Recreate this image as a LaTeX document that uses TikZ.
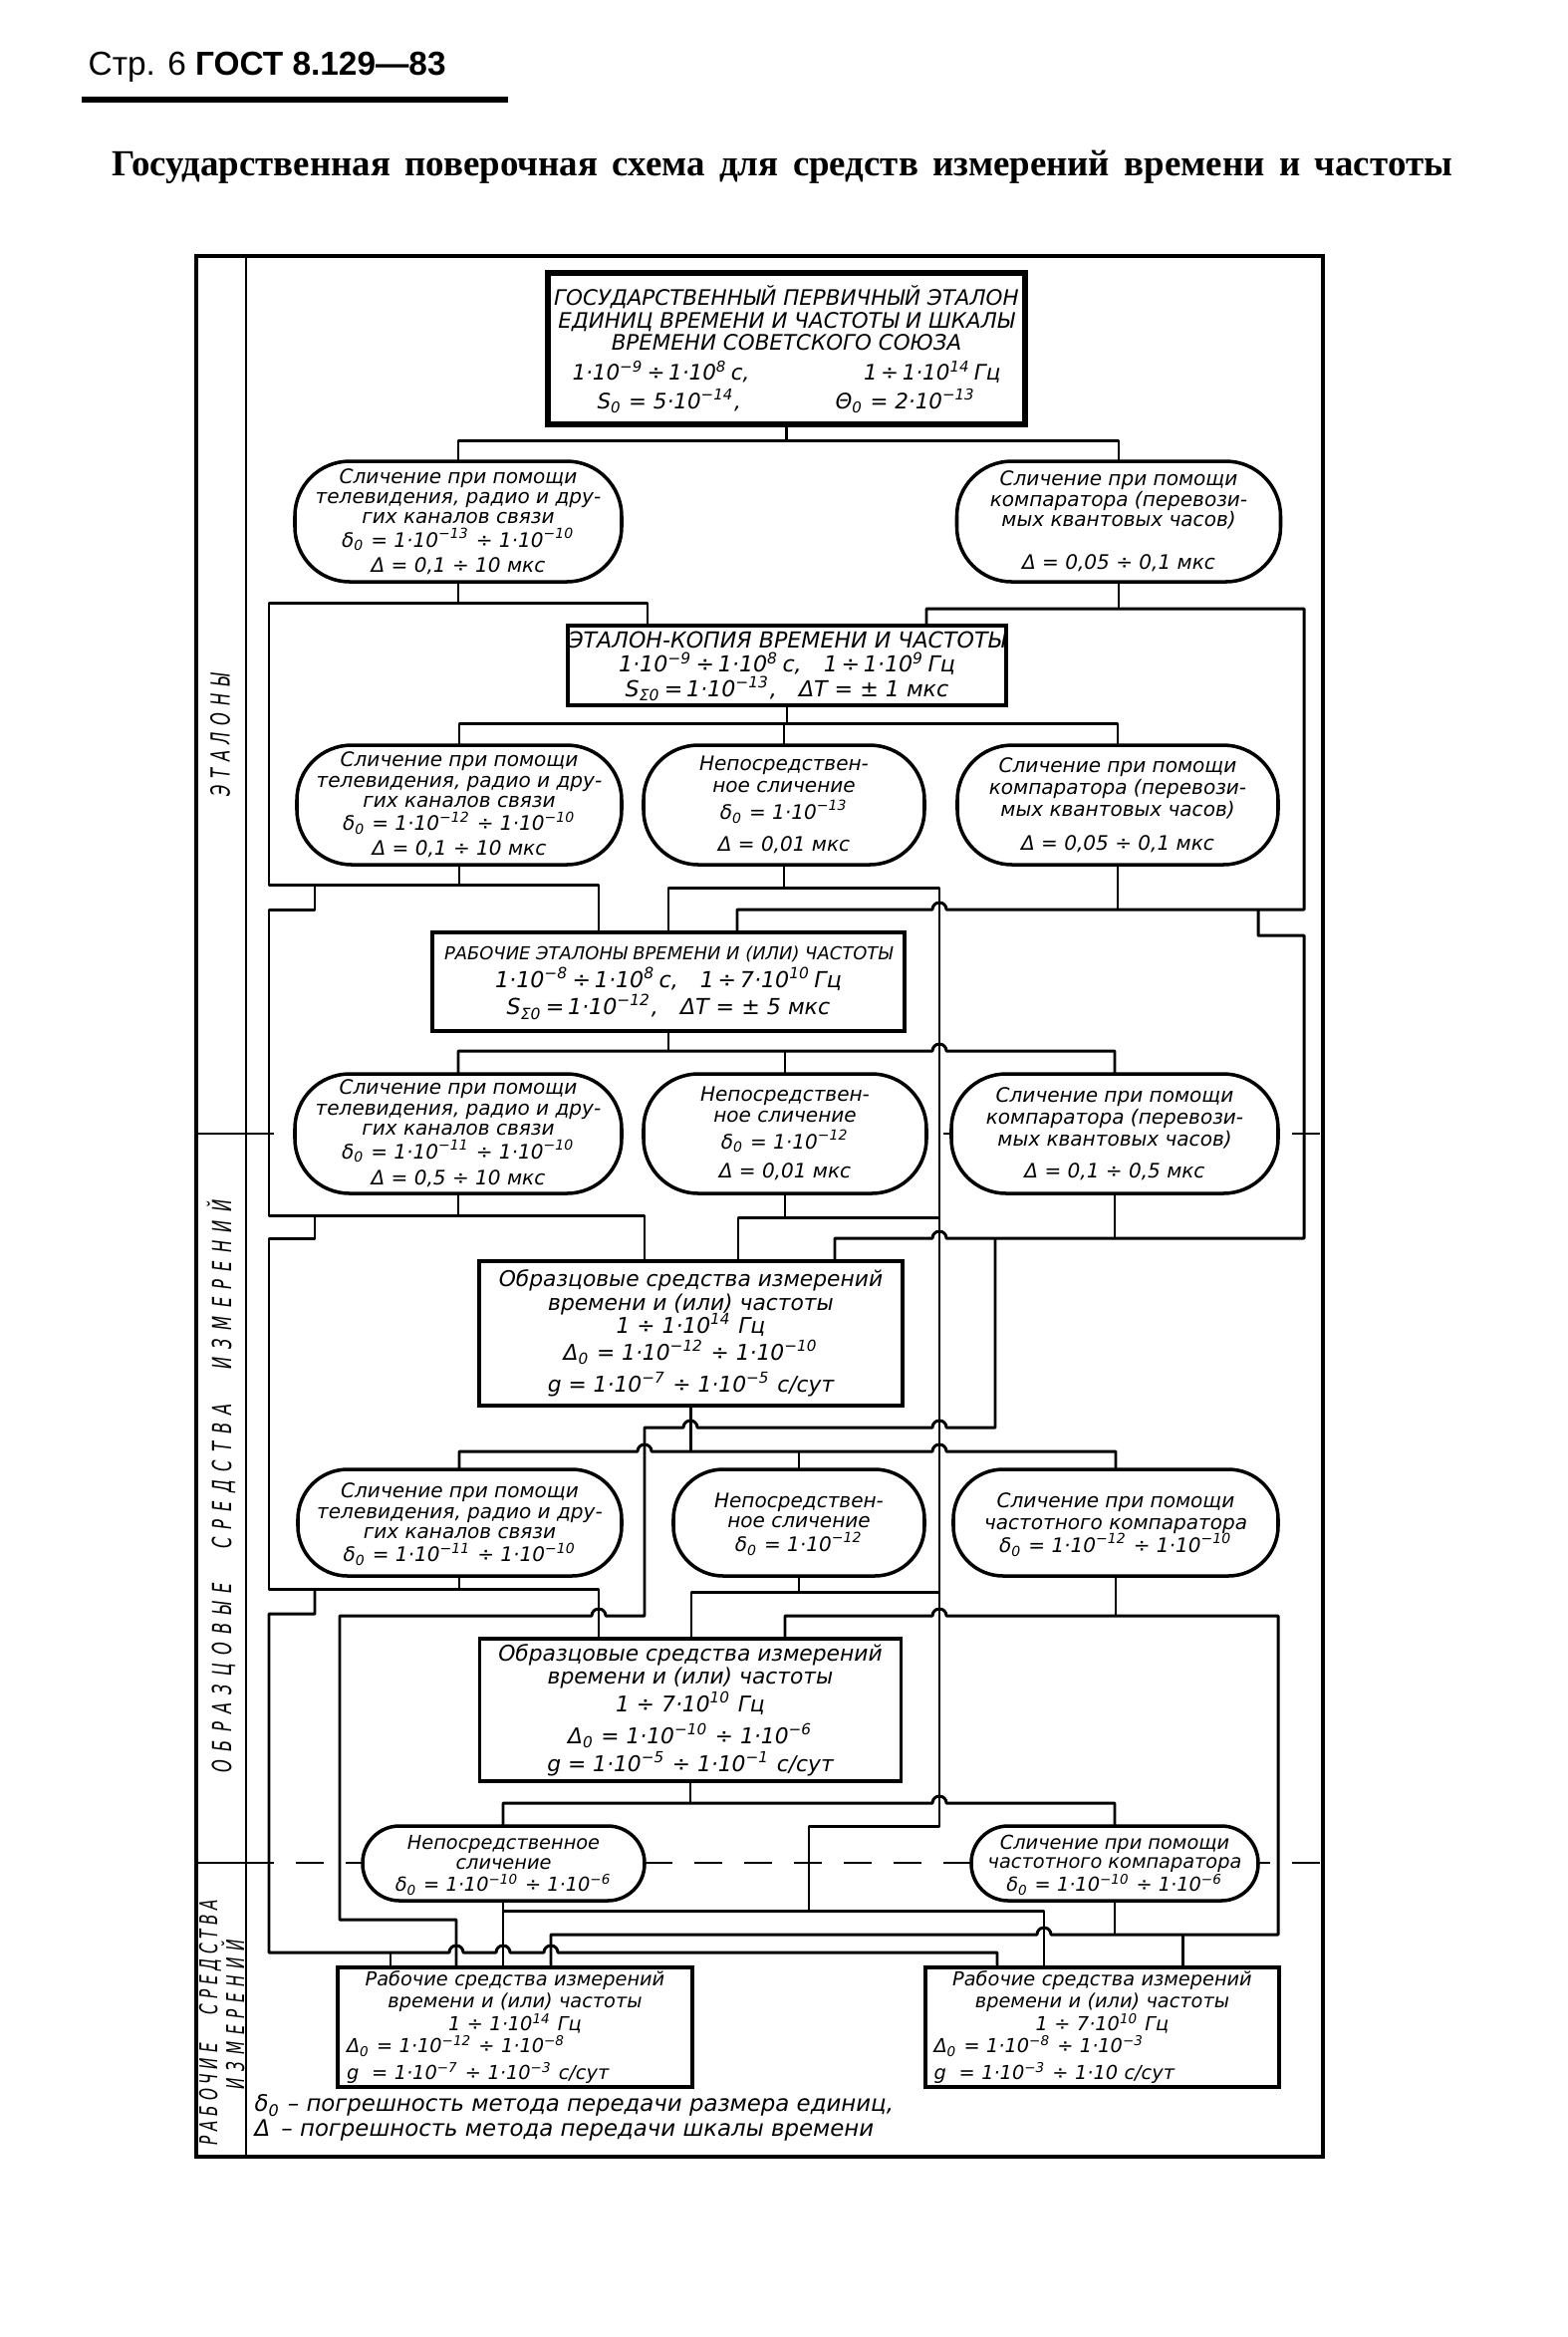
\documentclass[tikz,border=0pt]{standalone}
\usepackage{fontspec}
\usepackage{graphicx}
\newfontfamily\tfam{DejaVu Sans}
\newfontfamily\lblfam[FakeStretch=0.62]{DejaVu Sans}
\newfontfamily\ttlfam{Liberation Serif}
\newfontfamily\hdrfam{Liberation Sans}
\newcommand\pw[1]{\smash{\textsuperscript{#1}}}
\newcommand\ix[1]{\smash{\textsubscript{#1}}}
\newcommand\fs[2]{\tfam\itshape\fontsize{#1}{#2}\selectfont}
\tikzset{
  ln/.style={line width=0.85pt, line join=round},
  bx/.style={draw, line width=1pt, fill=white, inner sep=0pt, align=center, font=\fs{6.3}{7}},
  ov/.style={draw, line width=1pt, fill=white, inner sep=0pt, align=center, font=\fs{5.7}{5.8}, rounded corners=5.5mm},
  sidelbl/.style={rotate=90, font=\lblfam\itshape\fontsize{7.5}{8}\selectfont, inner sep=0pt},
}
\begin{document}
\begin{tikzpicture}[x=0.1mm,y=-0.1mm]
\useasboundingbox[fill=white] (0,0) rectangle (1574,2346);
% header
\node[anchor=west, inner sep=0pt, font=\hdrfam\fontsize{9.5}{11}\selectfont] (hdr) at (88,67) {Стр. 6 \textbf{ГОСТ 8.129—83}};
\draw[line width=0.6mm] (82,100) -- (510,100);
\node[inner sep=0pt, font=\ttlfam\bfseries\fontsize{10.5}{12}\selectfont] (title) at (785,168) {\makebox[134.6mm][s]{Государственная поверочная схема для средств измерений времени и частоты}};
% frame
\draw[line width=1pt] (197,257) rectangle (1328,2165);
\draw[line width=0.8pt] (247,257) -- (247,2165);
\draw[line width=0.8pt] (197,1138) -- (247,1138);
\draw[line width=0.8pt, dash pattern=on 2.8mm off 2.2mm] (247,1138) -- (1328,1138);
\draw[line width=0.8pt] (197,1870) -- (247,1870);
\draw[line width=0.8pt, dash pattern=on 2.8mm off 2.2mm] (247,1870) -- (1328,1870);
% side labels
\node[sidelbl] (s1) at (221,738) {\makebox[12.3mm][s]{Э Т А Л О Н Ы}};
\node[sidelbl] (s2) at (222,1492) {\makebox[57.5mm][s]{О Б Р А З Ц О В Ы Е \quad С Р Е Д С Т В А \quad И З М Е Р Е Н И Й}};
\node[sidelbl, font=\lblfam\itshape\fontsize{7}{8}\selectfont] (s3) at (211,2030) {\makebox[24.6mm][s]{Р А Б О Ч И Е \quad С Р Е Д С Т В А}};
\node[sidelbl, font=\lblfam\itshape\fontsize{7}{8}\selectfont] (s4) at (234,2022) {\makebox[15mm][s]{И З М Е Р Е Н И Й}};

% ---- connectors ----
\draw[ln] (789.5,427) -- (789.5,442);
\draw[ln] (460,463) -- (460,442) -- (1123,442) -- (1123,463);
\draw[ln] (460,584) -- (460,605);
\draw[ln] (650,628) -- (650,605) -- (270,605) -- (270,888) -- (601,888) -- (601,936);
\draw[ln] (1123,584) -- (1123,611);
\draw[ln] (740,936) -- (740,913) -- (936,913) arc[start angle=180,end angle=360,radius=7] -- (1309,913) -- (1309,611) -- (930,611) -- (930,628);
\draw[ln] (790,708) -- (790,726);
\draw[ln] (461,748) -- (461,726) -- (1122,726) -- (1122,748);
\draw[ln] (787,726) -- (787,748);
\draw[ln] (461,868) -- (461,888);
\draw[ln] (316,888) -- (316,913) -- (270,913) -- (270,1220) -- (647,1220) -- (647,1265);
\draw[ln] (787,868) -- (787,891);
\draw[ln] (671,936) -- (671,891) -- (943,891) -- (943,1833) -- (812,1833) -- (812,1918);
\draw[ln] (1122,868) -- (1122,913);
\draw[ln] (1263,913) -- (1263,939) -- (1309,939) -- (1309,1243) -- (950,1243) arc[start angle=0,end angle=-180,radius=7] -- (838,1243) -- (838,1265);
\draw[ln] (671,1035) -- (671,1055);
\draw[ln] (460,1078) -- (460,1055) -- (936,1055) arc[start angle=180,end angle=360,radius=7] -- (1119,1055) -- (1119,1078);
\draw[ln] (788,1055) -- (788,1078);
\draw[ln] (460,1198) -- (460,1220);
\draw[ln] (316,1220) -- (316,1243) -- (270,1243) -- (270,1595) -- (601,1595) -- (601,1645);
\draw[ln] (788,1198) -- (788,1222);
\draw[ln] (741,1265) -- (741,1222) -- (943,1222);
\draw[ln] (1119,1198) -- (1119,1243);
\draw[ln] (999,1243) -- (999,1433) -- (950,1433) arc[start angle=0,end angle=-180,radius=7] -- (700,1433) arc[start angle=0,end angle=-180,radius=7] -- (647,1433) -- (647,1622) -- (608,1622) arc[start angle=0,end angle=-180,radius=7] -- (341,1622) -- (341,1927) -- (458,1927) -- (458,1975);
\draw[ln] (693.5,1410) -- (693.5,1457);
\draw[ln] (461,1475) -- (461,1457) -- (640,1457) arc[start angle=180,end angle=360,radius=7] -- (936,1457) arc[start angle=180,end angle=360,radius=7] -- (1120,1457) -- (1120,1475);
\draw[ln] (802,1457) -- (802,1475);
\draw[ln] (461,1582) -- (461,1595);
\draw[ln] (316,1595) -- (316,1620) -- (270,1620) -- (270,1960) -- (451,1960) arc[start angle=180,end angle=360,radius=7] -- (498,1960) arc[start angle=180,end angle=360,radius=7] -- (546,1960) arc[start angle=180,end angle=360,radius=7] -- (1001,1960) -- (1001,1975);
\draw[ln] (392,1960) -- (392,1975);
\draw[ln] (802,1582) -- (802,1598);
\draw[ln] (694,1645) -- (694,1598) -- (943,1598);
\draw[ln] (1120,1582) -- (1120,1622);
\draw[ln] (788,1645) -- (788,1622) -- (936,1622) arc[start angle=180,end angle=360,radius=7] -- (1283,1622) -- (1283,1942) -- (1055,1942) arc[start angle=0,end angle=-180,radius=7] -- (553,1942) -- (553,1975);
\draw[ln] (1119,1908) -- (1119,1942);
\draw[ln] (1187,1942) -- (1187,1975);
\draw[ln] (693,1788) -- (693,1810);
\draw[ln] (505,1833) -- (505,1810) -- (936,1810) arc[start angle=180,end angle=360,radius=7] -- (1119,1810) -- (1119,1833);
\draw[ln] (505,1908) -- (505,1975);
\draw[ln] (505,1918) -- (1048,1918) -- (1048,1975);

% ---- boxes ----
\node[bx, line width=1.3pt, minimum width=48.1mm, minimum height=15.4mm, font=\fs{6.1}{6.4}] (b1) at (789.5,350) {ГОСУДАРСТВЕННЫЙ ПЕРВИЧНЫЙ ЭТАЛОН\\ЕДИНИЦ ВРЕМЕНИ И ЧАСТОТЫ И ШКАЛЫ\\ВРЕМЕНИ СОВЕТСКОГО СОЮЗА\\[2.2pt]\makebox[43mm]{1·10\pw{−9}\,÷\,1·10\pw{8}\,с,\hfill 1\,÷\,1·10\pw{14}\,Гц}\\[1.8pt]\makebox[38mm]{S\ix{0} = 5·10\pw{−14},\hfill Θ\ix{0} = 2·10\pw{−13}}};
\draw[line width=0.5pt] ([shift={(5,5)}]b1.north west) rectangle ([shift={(-5,-5)}]b1.south east);
\node[bx, minimum width=42.4mm, minimum height=8mm] (b2) at (790,668) {ЭТАЛОН-КОПИЯ ВРЕМЕНИ И ЧАСТОТЫ\\1·10\pw{−9}\,÷\,1·10\pw{8}\,с,\quad 1\,÷\,1·10\pw{9}\,Гц\\S\ix{Σ0}\,=\,1·10\pw{−13},\quad ΔT = ± 1 мкс};
\node[bx, minimum width=47.4mm, minimum height=9.9mm, font=\fs{6.3}{7.9}] (b3) at (671,985.5) {{\fontsize{5.1}{7}\selectfont РАБОЧИЕ ЭТАЛОНЫ ВРЕМЕНИ И (ИЛИ) ЧАСТОТЫ}\\1·10\pw{−8}\,÷\,1·10\pw{8}\,с,\quad 1\,÷\,7·10\pw{10}\,Гц\\S\ix{Σ0}\,=\,1·10\pw{−12},\quad ΔT = ± 5 мкс};
\node[bx, minimum width=42.5mm, minimum height=14.5mm, font=\fs{6.2}{6.6}] (b4) at (693.5,1338.5) {Образцовые средства измерений\\времени и (или) частоты\\1 ÷ 1·10\pw{14} Гц\\[1.2pt]Δ\ix{0} = 1·10\pw{−12} ÷ 1·10\pw{−10}\\[2.5pt]g = 1·10\pw{−7} ÷ 1·10\pw{−5} с/сут};
\node[bx, minimum width=42.3mm, minimum height=14.3mm, font=\fs{6.2}{6.8}] (b5) at (693,1716.5) {Образцовые средства измерений\\времени и (или) частоты\\[1.1pt]1 ÷ 7·10\pw{10} Гц\\[2.3pt]Δ\ix{0} = 1·10\pw{−10} ÷ 1·10\pw{−6}\\[1.1pt]g = 1·10\pw{−5} ÷ 1·10\pw{−1} с/сут};
\node[bx, minimum width=35.6mm, minimum height=12mm, font=\fs{5.5}{5.7}, text width=33.8mm, align=left] (b6a) at (517,2035) {\makebox[\linewidth]{Рабочие средства измерений}\\[0.4pt]\makebox[\linewidth]{времени и (или) частоты}\\[0.9pt]\makebox[\linewidth]{1 ÷ 1·10\pw{14} Гц}\\[0.6pt]Δ\ix{0} = 1·10\pw{−12} ÷ 1·10\pw{−8}\\[1.8pt]g \ = 1·10\pw{−7} ÷ 1·10\pw{−3} с/сут};
\node[bx, minimum width=35.5mm, minimum height=12mm, font=\fs{5.5}{5.7}, text width=33.8mm, align=left] (b6b) at (1106.5,2035) {\makebox[\linewidth]{Рабочие средства измерений}\\[0.4pt]\makebox[\linewidth]{времени и (или) частоты}\\[0.9pt]\makebox[\linewidth]{1 ÷ 7·10\pw{10} Гц}\\[0.6pt]Δ\ix{0} = 1·10\pw{−8} ÷ 1·10\pw{−3}\\[1.8pt]g \ = 1·10\pw{−3} ÷ 1·10 с/сут};

% ---- ovals ----
\node[ov, minimum width=32.8mm, minimum height=12.1mm] (o1a) at (460,523.5) {Сличение при помощи\\телевидения, радио и дру-\\гих каналов связи\\[0.9pt]δ\ix{0} = 1·10\pw{−13} ÷ 1·10\pw{−10}\\[1.3pt]Δ = 0,1 ÷ 10 мкс};
\node[ov, minimum width=32.5mm, minimum height=12.1mm] (o1b) at (1123,523.5) {Сличение при помощи\\компаратора (перевози-\\мых квантовых часов)\\[6.5pt]Δ = 0,05 ÷ 0,1 мкс};
\node[ov, minimum width=32.6mm, minimum height=12mm] (o2a) at (461,808) {Сличение при помощи\\телевидения, радио и дру-\\гих каналов связи\\[0.9pt]δ\ix{0} = 1·10\pw{−12} ÷ 1·10\pw{−10}\\[1.3pt]Δ = 0,1 ÷ 10 мкс};
\node[ov, minimum width=28.2mm, minimum height=12mm, font=\fs{5.7}{6.2}] (o2b) at (787,808) {Непосредствен-\\ное сличение\\[1.5pt]δ\ix{0} = 1·10\pw{−13}\\[2.8pt]Δ = 0,01 мкс};
\node[ov, minimum width=32.2mm, minimum height=12mm, font=\fs{5.7}{6.3}] (o2c) at (1122,808) {Сличение при помощи\\компаратора (перевози-\\мых квантовых часов)\\[3.3pt]Δ = 0,05 ÷ 0,1 мкс};
\node[ov, minimum width=32.8mm, minimum height=12mm] (o3a) at (460,1138) {Сличение при помощи\\телевидения, радио и дру-\\гих каналов связи\\[0.9pt]δ\ix{0} = 1·10\pw{−11} ÷ 1·10\pw{−10}\\[1.8pt]Δ = 0,5 ÷ 10 мкс};
\node[ov, minimum width=28.4mm, minimum height=12mm, font=\fs{5.7}{6}] (o3b) at (788,1138) {Непосредствен-\\ное сличение\\[1.7pt]δ\ix{0} = 1·10\pw{−12}\\[2.4pt]Δ = 0,01 мкс};
\node[ov, minimum width=32.8mm, minimum height=12mm, font=\fs{5.7}{6.3}] (o3c) at (1119,1138) {Сличение при помощи\\компаратора (перевози-\\мых квантовых часов)\\[2.8pt]Δ = 0,1 ÷ 0,5 мкс};
\node[ov, rounded corners=5mm, minimum width=32.5mm, minimum height=10.7mm] (o4a) at (461.5,1528.5) {Сличение при помощи\\телевидения, радио и дру-\\гих каналов связи\\[0.9pt]δ\ix{0} = 1·10\pw{−11} ÷ 1·10\pw{−10}};
\node[ov, rounded corners=5mm, minimum width=25.2mm, minimum height=10.7mm] (o4b) at (802,1528.5) {Непосредствен-\\ное сличение\\[1pt]δ\ix{0} = 1·10\pw{−12}};
\node[ov, rounded corners=5mm, minimum width=32.6mm, minimum height=10.7mm, font=\fs{5.7}{6.3}] (o4c) at (1120,1528.5) {Сличение при помощи\\частотного компаратора\\[0.3pt]δ\ix{0} = 1·10\pw{−12} ÷ 1·10\pw{−10}};
\node[ov, rounded corners=3.7mm, minimum width=28.3mm, minimum height=7.5mm, font=\fs{5.5}{5.7}] (o5a) at (505.5,1870.5) {Непосредственное\\сличение\\[0.6pt]δ\ix{0} = 1·10\pw{−10} ÷ 1·10\pw{−6}};
\node[ov, rounded corners=3.7mm, minimum width=28.8mm, minimum height=7.5mm, font=\fs{5.5}{5.4}] (o5b) at (1119,1870.5) {Сличение при помощи\\частотного компаратора\\[1pt]δ\ix{0} = 1·10\pw{−10} ÷ 1·10\pw{−6}};

% legend
\node[anchor=west, align=left, inner sep=0pt, font=\fs{6.5}{7.2}] (leg) at (255,2126) {δ\ix{0} – погрешность метода передачи размера единиц,\\Δ \,– погрешность метода передачи шкалы времени};
\end{tikzpicture}
\end{document}
